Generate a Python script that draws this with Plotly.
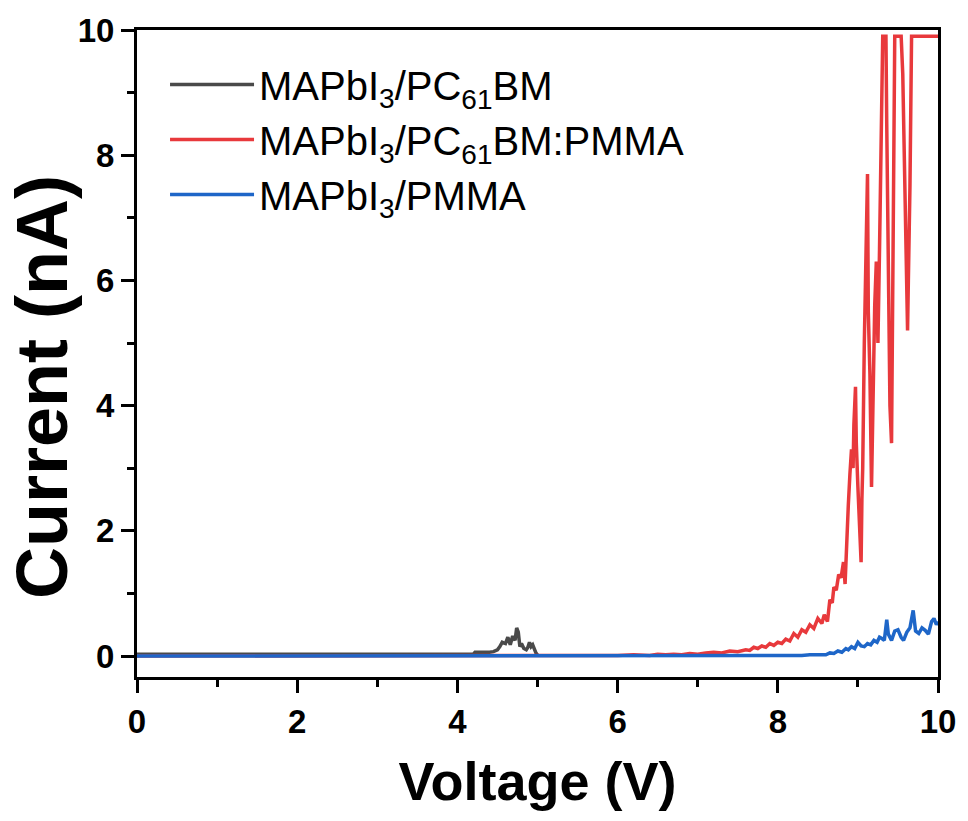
import plotly.graph_objects as go

# ---- data ----
names = ["MAPbI<sub>3</sub>/PC<sub>61</sub>BM",
         "MAPbI<sub>3</sub>/PC<sub>61</sub>BM:PMMA",
         "MAPbI<sub>3</sub>/PMMA"]

x_gray = [0, 0.5, 1, 1.5, 2, 2.5, 3, 3.5, 4.0, 4.2, 4.22, 4.3, 4.35, 4.4, 4.45, 4.5,
          4.53, 4.56, 4.6, 4.63, 4.66, 4.69, 4.72, 4.74, 4.76, 4.78, 4.8, 4.83, 4.86,
          4.88, 4.9, 4.92, 4.94, 4.96, 4.98, 5.0]
y_gray = [0.03, 0.03, 0.03, 0.03, 0.03, 0.03, 0.03, 0.03, 0.03, 0.03, 0.06, 0.06, 0.05,
          0.06, 0.07, 0.1, 0.15, 0.22, 0.2, 0.3, 0.18, 0.32, 0.25, 0.45, 0.38, 0.15, 0.2,
          0.12, 0.1, 0.14, 0.22, 0.15, 0.18, 0.1, 0.05, 0.02]

x_red = [0, 1, 2, 3, 4, 5,
         6.0, 6.2, 6.4, 6.5, 6.6, 6.7, 6.8, 6.9, 7.0,
         7.1, 7.2, 7.3, 7.4, 7.5, 7.6,
         7.65, 7.7, 7.75, 7.8, 7.85, 7.9, 7.95, 8.0,
         8.05, 8.1, 8.15, 8.2, 8.25, 8.3, 8.35, 8.4, 8.45, 8.5, 8.55,
         8.58, 8.62, 8.65, 8.68, 8.7, 8.73, 8.76, 8.79, 8.82,
         8.84, 8.86, 8.88, 8.9, 8.92, 8.94, 8.95, 8.97, 8.98,
         9.0, 9.02, 9.04, 9.05, 9.06, 9.08, 9.1, 9.12, 9.13,
         9.15, 9.17, 9.19, 9.21, 9.23, 9.25, 9.27, 9.29, 9.31,
         9.33, 9.35, 9.36, 9.38, 9.4, 9.42, 9.43, 9.45, 9.46,
         9.48, 9.52, 9.54, 9.56, 9.58, 9.6, 9.62, 9.63, 9.65, 9.67,
         9.8, 10.0]
y_red = [0.0, 0.0, 0.0, 0.0, 0.0, 0.0,
         0.01, 0.02, 0.01, 0.03, 0.02, 0.03, 0.02, 0.04, 0.03,
         0.05, 0.06, 0.05, 0.08, 0.07, 0.1,
         0.09, 0.14, 0.12, 0.16, 0.14, 0.2, 0.17, 0.22,
         0.2, 0.27, 0.24, 0.36, 0.3, 0.42, 0.38, 0.5, 0.44, 0.6, 0.52,
         0.66, 0.55, 0.9, 0.85, 1.1, 1.05, 1.3, 1.25, 1.5,
         1.15, 1.9, 2.4, 2.9, 3.3, 3.0, 3.7, 4.3, 3.4,
         2.7, 2.2, 1.5, 2.5, 3.0, 5.0, 6.3, 7.7, 5.5,
         4.5, 2.7, 4.6, 5.6, 6.3, 5.0, 6.5, 8.0, 9.9,
         9.9, 9.9, 8.5, 6.0, 4.0, 3.4, 5.5, 8.5, 9.9,
         9.9, 9.9, 9.9, 9.3, 8.0, 6.5, 5.2, 6.0, 7.5, 9.9,
         9.9, 9.9]

x_blue = [0, 1, 2, 3, 4, 5, 6, 7,
          7.5, 7.8, 7.9, 8.0, 8.1, 8.2, 8.3, 8.4, 8.5,
          8.55, 8.6, 8.65, 8.7, 8.75, 8.8, 8.85, 8.88, 8.92, 8.96,
          9.0, 9.04, 9.08, 9.12, 9.16, 9.2, 9.24, 9.27, 9.3, 9.33,
          9.36, 9.38, 9.42, 9.46, 9.5, 9.54, 9.57, 9.61, 9.65, 9.69,
          9.72, 9.76, 9.8, 9.84, 9.88, 9.92, 9.95, 9.98, 10.0]
y_blue = [0, 0, 0, 0, 0, 0, 0, 0,
          0, 0.01, 0.0, 0.01, 0.0, 0.01, 0.01, 0.02, 0.02,
          0.03, 0.02, 0.05, 0.04, 0.08, 0.06, 0.12, 0.1, 0.15, 0.12,
          0.22, 0.16, 0.15, 0.2, 0.18, 0.25, 0.22, 0.3, 0.28, 0.25,
          0.58, 0.35, 0.25, 0.4, 0.42, 0.3, 0.25, 0.38, 0.45, 0.73,
          0.4, 0.36, 0.45, 0.41, 0.35, 0.55, 0.6, 0.5, 0.55]

x_ticks = [0, 2, 4, 6, 8, 10]
y_ticks = [0, 2, 4, 6, 8, 10]
colors = ["#4a4a4a", "#e8393c", "#1e66c8"]

fig = go.Figure()
for xs, ys, nm, c in [(x_gray, y_gray, names[0], colors[0]),
                      (x_red, y_red, names[1], colors[1]),
                      (x_blue, y_blue, names[2], colors[2])]:
    fig.add_trace(go.Scatter(x=xs, y=ys, mode="lines", name=nm,
                             line=dict(color=c, width=3.5)))

axis_common = dict(
    showline=True, linecolor="black", linewidth=3, mirror=True,
    ticks="outside", ticklen=13, tickwidth=3, tickcolor="black",
    showgrid=False, zeroline=False,
    tickfont=dict(family="Liberation Sans", size=33, color="black", weight="bold"),
)

fig.update_layout(
    width=968, height=821,
    margin=dict(l=137, r=28, t=29, b=144),
    plot_bgcolor="white", paper_bgcolor="white",
    font=dict(family="Liberation Sans", color="black"),
    xaxis=dict(range=[0, 10], tickvals=x_ticks,
               minor=dict(ticks="outside", ticklen=7, tickwidth=3, tickcolor="black", dtick=1),
               title=dict(text="Voltage (V)", standoff=24,
                          font=dict(family="Liberation Sans", size=54, weight="bold", color="black")),
               **axis_common),
    yaxis=dict(range=[-0.335, 10], tickvals=y_ticks,
               minor=dict(ticks="outside", ticklen=7, tickwidth=3, tickcolor="black", dtick=1),
               **axis_common),
    legend=dict(x=0.035, y=0.966, xanchor="left", yanchor="top",
                bgcolor="rgba(0,0,0,0)", itemwidth=84,
                font=dict(family="Liberation Sans", size=40, color="black")),
    showlegend=True,
    annotations=[dict(text="Current (nA)", textangle=-90, showarrow=False,
                      xref="paper", yref="paper", x=-0.118, y=0.449,
                      xanchor="center", yanchor="middle",
                      font=dict(family="Liberation Sans", size=72, weight="bold", color="black"))],
)

fig.write_html("out.html")
